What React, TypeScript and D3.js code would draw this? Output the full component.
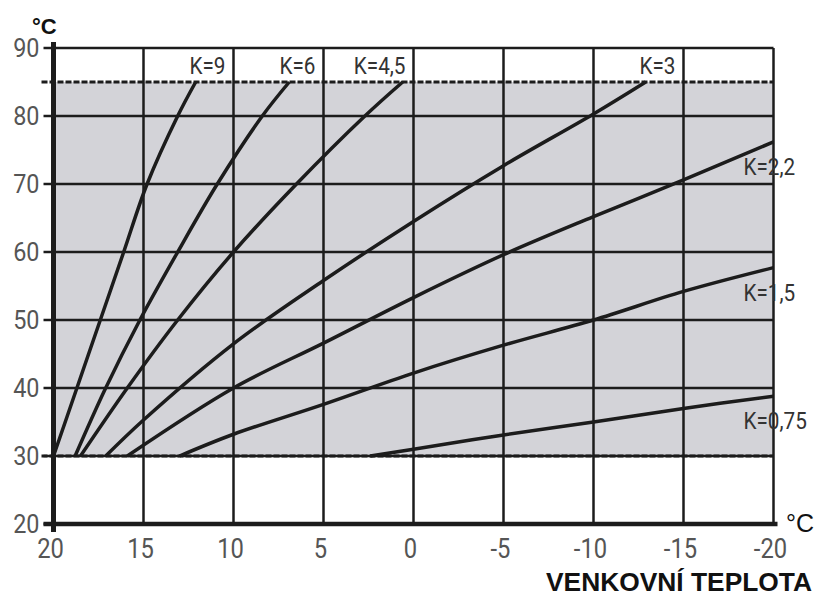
import React from 'react';
import * as d3 from 'd3';

// outdoor temperature (°C) -> flow temperature (°C)
const k9 = [[20, 30], [18.7, 40], [17.4, 50], [16.1, 60], [14.8, 70], [13.1, 80], [12.1, 85]];
const k6 = [[18.8, 30], [17.1, 40], [15.2, 50], [13.1, 60], [10.9, 70], [8.4, 80], [6.9, 85]];
const k45 = [[18.5, 30], [15.9, 40], [13.1, 50], [10, 60], [6.5, 70], [2.7, 80], [0.6, 85]];
const k3 = [[17.1, 30], [15, 35.3], [10, 46.5], [5, 55.8], [0, 64.5], [-5, 72.7], [-10, 80.3], [-12.9, 85]];
const k22 = [[15.9, 30], [10, 40], [5, 46.6], [0, 53.3], [-5, 59.6], [-10, 65.2], [-15, 70.6], [-20, 76.2]];
const k15 = [[13, 30], [10, 33.2], [5, 37.6], [0, 42.2], [-5, 46.3], [-10, 50], [-15, 54.2], [-20, 57.7]];
const k075 = [[2.4, 30], [0, 31], [-5, 33.1], [-10, 35], [-15, 37], [-20, 38.8]];

const curves = [k9, k6, k45, k3, k22, k15, k075];
const kLabels = ['K=9', 'K=6', 'K=4,5', 'K=3', 'K=2,2', 'K=1,5', 'K=0,75'];

const xTicks = [20, 15, 10, 5, 0, -5, -10, -15, -20];
const yTicks = [20, 30, 40, 50, 60, 70, 80, 90];
const bandLow = 30;
const bandHigh = 85;

const W = 817;
const H = 603;
const margin = { top: 48, right: 43.5, bottom: 79, left: 53.5 };

const FONT = 'Roboto, "DejaVu Sans", sans-serif';
const BOLD = '"Liberation Sans", Arial, sans-serif';
const INK = '#1c1c1c';

// narrow text, the original uses a condensed face
const Narrow = ({ x, y, anchor, size, sx, fill, children }: any) => (
  <text transform={`translate(${x},${y}) scale(${sx},1)`} textAnchor={anchor}
    fontFamily={FONT} fontSize={size} fill={fill}>{children}</text>
);

export default function App() {
  const x = d3.scaleLinear().domain([20, -20]).range([margin.left, W - margin.right]);
  const y = d3.scaleLinear().domain([20, 90]).range([H - margin.bottom, margin.top]);
  const line = d3.line<number[]>()
    .x(d => x(d[0]))
    .y(d => y(d[1]))
    .curve(d3.curveCatmullRom.alpha(0.5));

  const x0 = x(20), x1 = x(-20), yTop = y(90), yBot = y(20);

  return (
    <svg width={W} height={H} style={{ position: 'absolute', left: 0, top: 0, background: '#fff' }}>
      {/* gray working band */}
      <rect x={x0} y={y(bandHigh)} width={x1 - x0} height={y(bandLow) - y(bandHigh)} fill="#d3d3d8" />

      {/* grid */}
      {yTicks.filter(t => t > 20).map(t => (
        <line key={'h' + t} x1={x0} x2={x1} y1={y(t)} y2={y(t)} stroke={INK} strokeWidth={2.5} />
      ))}
      {xTicks.filter(t => t < 20).map(t => (
        <line key={'v' + t} x1={x(t)} x2={x(t)} y1={yTop} y2={yBot} stroke={INK} strokeWidth={2.5} />
      ))}

      {/* band limits */}
      {[bandHigh, bandLow].map(t => (
        <line key={'d' + t} x1={x0 - 12} x2={x1} y1={y(t)} y2={y(t)} stroke={INK}
          strokeWidth={3} strokeDasharray="6,2" />
      ))}

      {/* curves */}
      {curves.map((c, i) => (
        <path key={'c' + i} d={line(c) || ''} fill="none" stroke={INK} strokeWidth={3.5} />
      ))}

      {/* axes */}
      <line x1={x0} x2={x0} y1={yTop - 6} y2={yBot + 8} stroke={INK} strokeWidth={5} />
      <line x1={x0 - 10} x2={x1 + 4} y1={yBot} y2={yBot} stroke={INK} strokeWidth={4.5} />
      {yTicks.map(t => (
        <g key={'yt' + t}>
          <line x1={x0 - 10} x2={x0} y1={y(t)} y2={y(t)} stroke={INK} strokeWidth={2.5} />
          <Narrow x={x0 - 14} y={y(t) + 9} anchor="end" size={26} sx={0.9} fill="#555">{t}</Narrow>
        </g>
      ))}
      {xTicks.map(t => (
        <Narrow key={'xt' + t} x={x(t) - 3} y={yBot + 34} anchor="middle" size={27} sx={0.88}
          fill="#555">{t}</Narrow>
      ))}

      {/* curve labels */}
      {curves.map((c, i) => {
        const end = c[c.length - 1];
        if (end[1] >= bandHigh) {
          const grid = Math.floor(end[0] / 5) * 5;
          return (
            <Narrow key={'l' + i} x={x(grid) - 8} y={y(bandHigh) - 8} anchor="end"
              size={23} sx={0.9} fill="#333">{kLabels[i]}</Narrow>
          );
        }
        return (
          <Narrow key={'l' + i} x={x(end[0]) - 30} y={y(end[1]) + 33} anchor="start"
            size={23} sx={0.9} fill="#333">{kLabels[i]}</Narrow>
        );
      })}

      {/* units and title */}
      <text x={32} y={34} fontFamily={BOLD} fontWeight="bold" fontSize={22} fill="#111">°C</text>
      <text x={786} y={532} fontFamily={BOLD} fontSize={25} fill="#111">°C</text>
      <text x={812} y={591} textAnchor="end" fontFamily={BOLD} fontWeight="bold" fontSize={26}
        fill="#111" textLength={266} lengthAdjust="spacingAndGlyphs">VENKOVNÍ TEPLOTA</text>
    </svg>
  );
}
